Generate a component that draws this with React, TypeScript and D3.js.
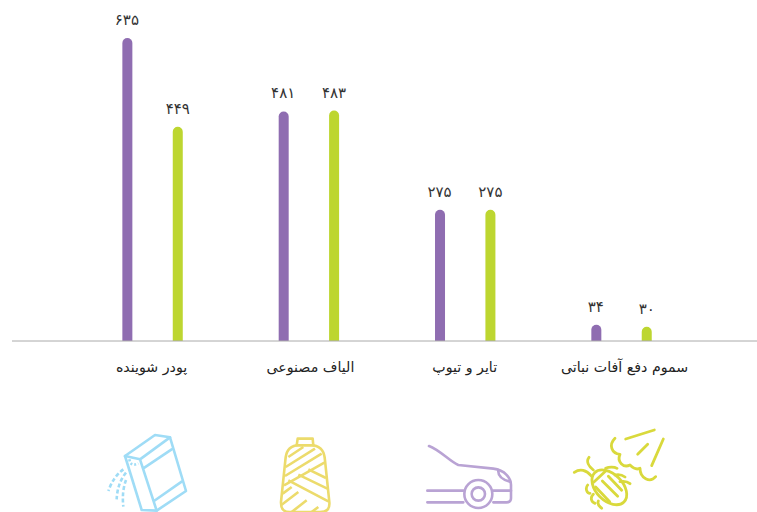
import React from "react";
import * as d3 from "d3";

const categories = ["پودر شوینده", "الیاف مصنوعی", "تایر و تیوپ", "سموم دفع آفات نباتی"];
const seriesPurple = [635, 481, 275, 34];
const seriesGreen = [449, 483, 275, 30];
const purpleLabels = ["۶۳۵", "۴۸۱", "۲۷۵", "۳۴"];
const greenLabels = ["۴۴۹", "۴۸۳", "۲۷۵", "۳۰"];
const labelNudge = [-1, 1.5, -0.5, 3];

const W = 757, H = 512;
const FONT = "'DejaVu Sans', sans-serif";
const baseY = 341;
const x = d3.scaleBand<string>().domain(categories).range([74.4, 699.7]);
const y = d3.scaleLinear().domain([0, 635]).range([baseY, 38]);
const sub = d3.scalePoint<string>().domain(["a", "b"]).range([-25.2, 25.2]);
const BW = 10;

function barPath(cx: number, v: number) {
  const top = y(v);
  const r = BW / 2;
  return `M${cx - r},${baseY}V${top + r}A${r},${r} 0 0 1 ${cx + r},${top + r}V${baseY}Z`;
}

const Icon = ({ ox, oy, color, w, children }: any) => (
  <g transform={`translate(${ox},${oy}) scale(${1 / 3})`} fill="none" stroke={color} strokeWidth={w * 3} strokeLinecap="round" strokeLinejoin="round">
    {children}
  </g>
);

export default function App() {
  const groups = categories.map((c, i) => {
    const cx = x(c)! + x.bandwidth() / 2;
    return { c, cx, i };
  });
  return (
    <svg width={W} height={H} style={{ position: "absolute", left: 0, top: 0, background: "#fff" }}>
      {groups.map(({ c, cx, i }) => {
        const xa = cx + sub("a")!, xb = cx + sub("b")!;
        return (
          <g key={c}>
            <path d={barPath(xa, seriesPurple[i])} fill="#8f6db1" />
            <path d={barPath(xb, seriesGreen[i])} fill="#bdd630" />
            <text x={xa - 0.5} y={y(seriesPurple[i]) - 13} textAnchor="middle" fontFamily={FONT} fontSize={15} fill="#333">{purpleLabels[i]}</text>
            <text x={xb} y={y(seriesGreen[i]) - 13} textAnchor="middle" fontFamily={FONT} fontSize={15} fill="#333">{greenLabels[i]}</text>
            <text x={cx + labelNudge[i]} y={372} textAnchor="middle" direction="rtl" fontFamily={FONT} fontSize={14.2} fill="#222">{c}</text>
          </g>
        );
      })}
      <line x1={12} x2={757} y1={baseY} y2={baseY} stroke="#aaaaaa" strokeWidth={1} />

      <Icon ox={90} oy={420} color="#9fdcf6" w={2.6}>
        <path d="M105,108L195,45L240,52L288,213L200,272L155,270Z" />
        <path d="M105,108L150,118L240,52M150,118L200,272M160,145L245,88M192,243L275,185" />
        <path d="M118,118Q122,142 145,130" strokeDasharray="6 6" strokeLinecap="butt" />
        <path d="M100,148Q70,170 55,213M108,158Q82,190 80,238M108,180Q95,215 100,260" strokeDasharray="12 7" strokeLinecap="butt" />
      </Icon>

      <Icon ox={270} oy={432} color="#ecdb6c" w={2.6}>
        <path d="M80,40L83,20H128L130,40" />
        <path d="M80,40C55,45 48,60 46,85L33,210C32,235 45,240 60,240H150C170,240 180,232 178,210L165,85C163,60 155,45 130,40Z" />
        <path d="M55,75L100,45M47,105L135,50M45,132L155,65M42,160L163,92" strokeLinecap="butt" />
        <path d="M115,112L168,138M85,128L172,170M55,145L175,208" strokeLinecap="butt" />
        <path d="M38,185L65,165M35,218L85,180M65,240L110,205M125,240L145,225" strokeLinecap="butt" />
      </Icon>

      <Icon ox={410} oy={420} color="#b9a3d4" w={2.6}>
        <path d="M57,78C90,90 120,125 145,135L250,146C285,150 303,175 303,195V235Q303,247 290,247H250" />
        <path d="M52,212H160M52,247H160M250,212H303M265,150Q262,175 300,185" />
        <circle cx={205} cy={222} r={42} />
        <circle cx={205} cy={222} r={20} />
      </Icon>

      <Icon ox={565} oy={425} color="#d9d93c" w={2.8}>
        <path d="M182,42L268,15M295,42L260,122M248,58L218,88" />
        <path d="M150,40C130,60 140,85 165,88C155,110 175,130 195,120C205,130 215,135 225,130C225,160 255,175 272,155" />
        <ellipse cx={133} cy={187} rx={62} ry={40} transform="rotate(45 133 187)" />
        <path d="M86,172L122,138M112,168L158,214M92,186L134,230M130,154L170,196" />
        <path d="M72,97C62,110 72,125 85,135M28,142C45,130 65,135 78,152M68,180C60,190 65,205 75,205M85,208C75,218 78,230 90,235M100,228C95,240 105,245 110,250M122,130C132,125 148,125 156,130M150,150C160,148 172,150 180,156M165,170C175,168 188,170 195,176" />
      </Icon>
    </svg>
  );
}
